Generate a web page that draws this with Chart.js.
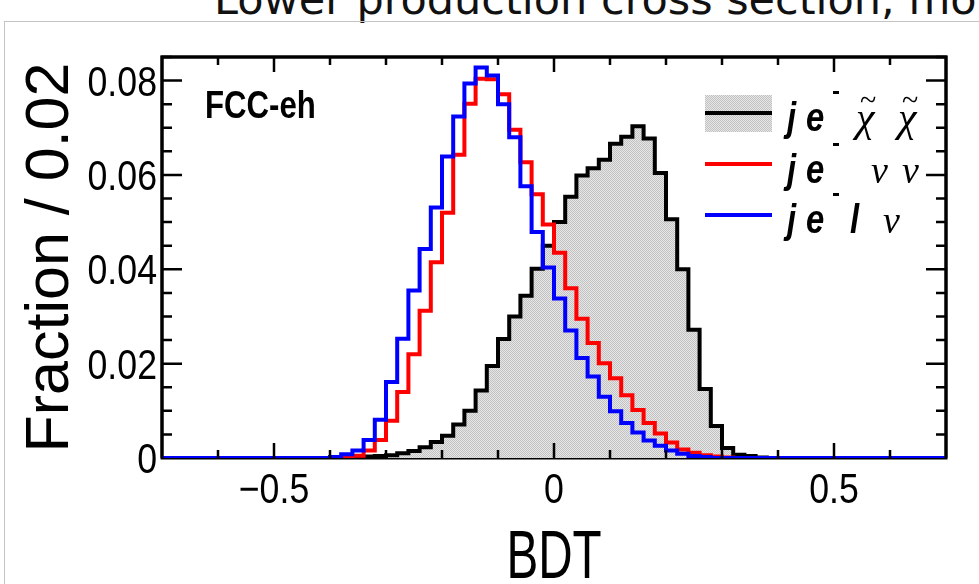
<!DOCTYPE html>
<html>
<head>
<meta charset="utf-8">
<script src="https://cdn.jsdelivr.net/npm/chart.js@4.4.1/dist/chart.umd.min.js"></script>
<style>
  html, body { margin: 0; padding: 0; background: #fff; overflow: hidden; }
  #page { position: relative; width: 979px; height: 584px; overflow: hidden; }
  #head { position: absolute; left: 214px; top: -26px; font: 43px "DejaVu Sans"; color: #111; white-space: nowrap; }
  #border { position: absolute; left: 4px; top: 21px; width: 990px; height: 600px; border-left: 1px solid #c4c4c4; border-top: 1px solid #c4c4c4; }
  #box { position: absolute; left: 0; top: 0; width: 979px; height: 584px; }
</style>
</head>
<body>
<div id="page">
  <div id="head">Lower production cross section, mo</div>
  <div id="border"></div>
  <div id="box"><canvas id="grafico"></canvas></div>
</div>
<script>
// binning: 70 bins of 0.02 from -0.7 to 0.7
const xMin = -0.7, xMax = 0.7, binW = 0.02;

// j e- chi chi (signal, filled)
const sinal = [
  0, 0, 0, 0, 0, 0, 0, 0, 0, 0,
  0, 0, 0, 0, 0, 0, 0, 0.0001, 0.0003, 0.0004,
  0.0006, 0.0010, 0.0015, 0.0023, 0.0034, 0.0047, 0.0071, 0.0100, 0.0143, 0.0195,
  0.0252, 0.0300, 0.0344, 0.0401, 0.0450, 0.0500, 0.0554, 0.0599, 0.0614, 0.0632,
  0.0666, 0.0681, 0.0703, 0.0677, 0.0604, 0.0506, 0.0400, 0.0272, 0.0146, 0.0068,
  0.0021, 0.0007, 0.0004, 0.0001, 0, 0, 0, 0, 0, 0,
  0, 0, 0, 0, 0, 0, 0, 0, 0, 0
];
// j e- nu nu
const fundoNuNu = [
  0, 0, 0, 0, 0, 0, 0, 0, 0, 0,
  0, 0, 0, 0, 0, 0.0001, 0.0002, 0.0005, 0.0016, 0.0038,
  0.0079, 0.0140, 0.0220, 0.0312, 0.0415, 0.0520, 0.0643, 0.0751, 0.0804, 0.0803,
  0.0771, 0.0696, 0.0627, 0.0559, 0.0495, 0.0435, 0.0360, 0.0295, 0.0244, 0.0201,
  0.0169, 0.0133, 0.0102, 0.0074, 0.0052, 0.0033, 0.0018, 0.0011, 0.0006, 0.0003,
  0.0001, 0, 0, 0, 0, 0, 0, 0, 0, 0,
  0, 0, 0, 0, 0, 0, 0, 0, 0, 0
];
// j e- l nu
const fundoLNu = [
  0, 0, 0, 0, 0, 0, 0, 0, 0, 0,
  0, 0, 0, 0, 0, 0.0002, 0.0008, 0.0016, 0.0038, 0.0081,
  0.0161, 0.0253, 0.0355, 0.0443, 0.0531, 0.0639, 0.0724, 0.0794, 0.0828, 0.0811,
  0.0750, 0.0680, 0.0576, 0.0479, 0.0404, 0.0338, 0.0270, 0.0212, 0.0173, 0.0130,
  0.0099, 0.0074, 0.0054, 0.0037, 0.0026, 0.0016, 0.0009, 0.0004, 0.0002, 0,
  0, 0, 0, 0, 0, 0, 0, 0, 0, 0,
  0, 0, 0, 0, 0, 0, 0, 0, 0, 0
];

const xTicks = [-0.5, 0, 0.5];
const yTicks = [0, 0.02, 0.04, 0.06, 0.08];
const yMax = 0.085;

function pontos(vals) {
  const pts = vals.map((v, i) => ({ x: xMin + i * binW, y: v }));
  pts.push({ x: xMax, y: vals[vals.length - 1] });
  return pts;
}

function padraoCinza(ctx) {
  const c = document.createElement('canvas');
  c.width = 2; c.height = 2;
  const g = c.getContext('2d');
  g.fillStyle = '#e6e6e6'; g.fillRect(0, 0, 2, 2);
  g.fillStyle = '#c2c2c2'; g.fillRect(0, 0, 1, 1); g.fillRect(1, 1, 1, 1);
  return ctx.createPattern(c, 'repeat');
}

function rotulo(v) {
  if (v === 0) return '0';
  return v < 0 ? '\u2212' + Math.abs(v) : String(v);
}

// texto com escala horizontal (fonte do ROOT e mais estreita)
function textoEsticado(ctx, txt, x, y, fonte, sx) {
  ctx.save();
  ctx.translate(x, y);
  ctx.scale(sx, 1);
  ctx.font = fonte;
  ctx.fillText(txt, 0, 0);
  ctx.restore();
}

const molduraAntes = {
  id: 'molduraAntes',
  beforeDatasetsDraw(chart) {
    const { ctx, chartArea: a } = chart;
    ctx.save();
    ctx.strokeStyle = '#000';
    ctx.lineWidth = 3;
    ctx.strokeRect(a.left, a.top, a.right - a.left, a.bottom - a.top);
    ctx.restore();
  }
};

const moldura = {
  id: 'moldura',
  afterDatasetsDraw(chart) {
    const { ctx, chartArea: a, scales: { x, y } } = chart;
    ctx.save();
    ctx.strokeStyle = '#000';
    ctx.lineWidth = 2.5;
    ctx.beginPath();
    for (let k = -6; k <= 6; k++) {
      const px = x.getPixelForValue(k / 10);
      const len = k % 5 === 0 ? 15 : 8;
      ctx.moveTo(px, a.bottom); ctx.lineTo(px, a.bottom - len);
      ctx.moveTo(px, a.top); ctx.lineTo(px, a.top + len);
    }
    for (let k = 1; k <= 17; k++) {
      const py = y.getPixelForValue(k * 0.005);
      const len = k % 4 === 0 ? 20 : 10;
      ctx.moveTo(a.left, py); ctx.lineTo(a.left + len, py);
      ctx.moveTo(a.right, py); ctx.lineTo(a.right - len, py);
    }
    ctx.stroke();
    ctx.lineWidth = 3;
    ctx.beginPath();
    ctx.moveTo(a.left, a.bottom); ctx.lineTo(a.left, a.top); ctx.lineTo(a.right, a.top); ctx.lineTo(a.right, a.bottom);
    ctx.stroke();
    ctx.restore();
  }
};

const textos = {
  id: 'textos',
  afterDraw(chart) {
    const { ctx, chartArea: a, scales: { x, y } } = chart;
    ctx.save();
    ctx.fillStyle = '#000';
    ctx.textBaseline = 'alphabetic';
    // rotulos dos ticks
    const fTick = '42px "Liberation Sans"';
    ctx.textAlign = 'center';
    xTicks.forEach(v => textoEsticado(ctx, rotulo(v), x.getPixelForValue(v), 503, fTick, 0.85));
    ctx.textAlign = 'right';
    yTicks.forEach(v => textoEsticado(ctx, rotulo(v), a.left - 5, y.getPixelForValue(v) + 15, fTick, 0.85));
    // titulos dos eixos
    ctx.textAlign = 'center';
    textoEsticado(ctx, 'BDT', (a.left + a.right) / 2, 578, '68px "Liberation Sans"', 0.7);
    ctx.save();
    ctx.translate(68, (a.top + a.bottom) / 2);
    ctx.rotate(-Math.PI / 2);
    ctx.font = '61px "Liberation Sans"';
    ctx.fillText('Fraction / 0.02', 0, 0);
    ctx.restore();
    // FCC-eh
    ctx.textAlign = 'left';
    textoEsticado(ctx, 'FCC-eh', 205, 118, 'bold 38px "Liberation Sans"', 0.82);
    // legenda
    ctx.fillStyle = padraoCinza(ctx);
    ctx.fillRect(705, 95, 67, 37);
    ctx.fillStyle = '#000';
    ctx.fillRect(705, 111, 67, 4);
    ctx.fillStyle = '#ff0000';
    ctx.fillRect(705, 162, 67, 4);
    ctx.fillStyle = '#0000ff';
    ctx.fillRect(705, 213, 67, 4);
    ctx.fillStyle = '#000';
    const linhas = [131, 183, 233];
    linhas.forEach(b => {
      textoEsticado(ctx, 'j', 787, b, 'italic bold 40px "Liberation Sans"', 0.82);
      textoEsticado(ctx, 'e', 806, b, 'italic bold 40px "Liberation Sans"', 0.82);
      ctx.fillRect(833, b - 40, 6, 3);
    });
    [856, 898].forEach(px => {
      ctx.font = 'italic 42px "Liberation Serif"';
      ctx.fillText('\u03C7', px, 131);
      ctx.font = '30px "Liberation Serif"';
      ctx.fillText('~', px + 4, 110);
    });
    ctx.font = 'italic 38px "Liberation Serif"';
    ctx.fillText('\u03BD', 871, 183);
    ctx.fillText('\u03BD', 902, 183);
    ctx.fillText('\u03BD', 883, 233);
    textoEsticado(ctx, 'l', 850, 233, 'italic bold 40px "Liberation Sans"', 0.82);
    ctx.restore();
  }
};

const ctx = document.getElementById('grafico').getContext('2d');
const serie = (vals, cor, ordem, extra) => Object.assign({
  data: pontos(vals),
  stepped: 'before',
  borderColor: cor,
  borderWidth: 4,
  borderJoinStyle: 'miter',
  borderCapStyle: 'butt',
  pointRadius: 0,
  fill: false,
  order: ordem
}, extra || {});

window.chart = new Chart(ctx, {
  type: 'line',
  data: {
    datasets: [
      serie(sinal, '#000000', 3, { fill: 'origin', backgroundColor: padraoCinza(ctx) }),
      serie(fundoNuNu, '#ff0000', 2),
      serie(fundoLNu, '#0000ff', 1)
    ]
  },
  options: {
    responsive: true,
    maintainAspectRatio: false,
    animation: false,
    events: [],
    layout: { padding: { left: 0, right: 33, top: 57, bottom: 0 } },
    plugins: { legend: { display: false }, tooltip: { enabled: false } },
    scales: {
      x: {
        type: 'linear', min: xMin, max: xMax,
        afterBuildTicks: s => { s.ticks = xTicks.map(v => ({ value: v })); },
        afterFit: s => { s.height = 126; },
        grid: { display: false, drawTicks: false },
        border: { display: false },
        ticks: { display: false }
      },
      y: {
        type: 'linear', min: 0, max: yMax,
        afterBuildTicks: s => { s.ticks = yTicks.map(v => ({ value: v })); },
        afterFit: s => { s.width = 162; },
        grid: { display: false, drawTicks: false },
        border: { display: false },
        ticks: { display: false }
      }
    }
  },
  plugins: [molduraAntes, moldura, textos]
});
</script>
</body>
</html>
